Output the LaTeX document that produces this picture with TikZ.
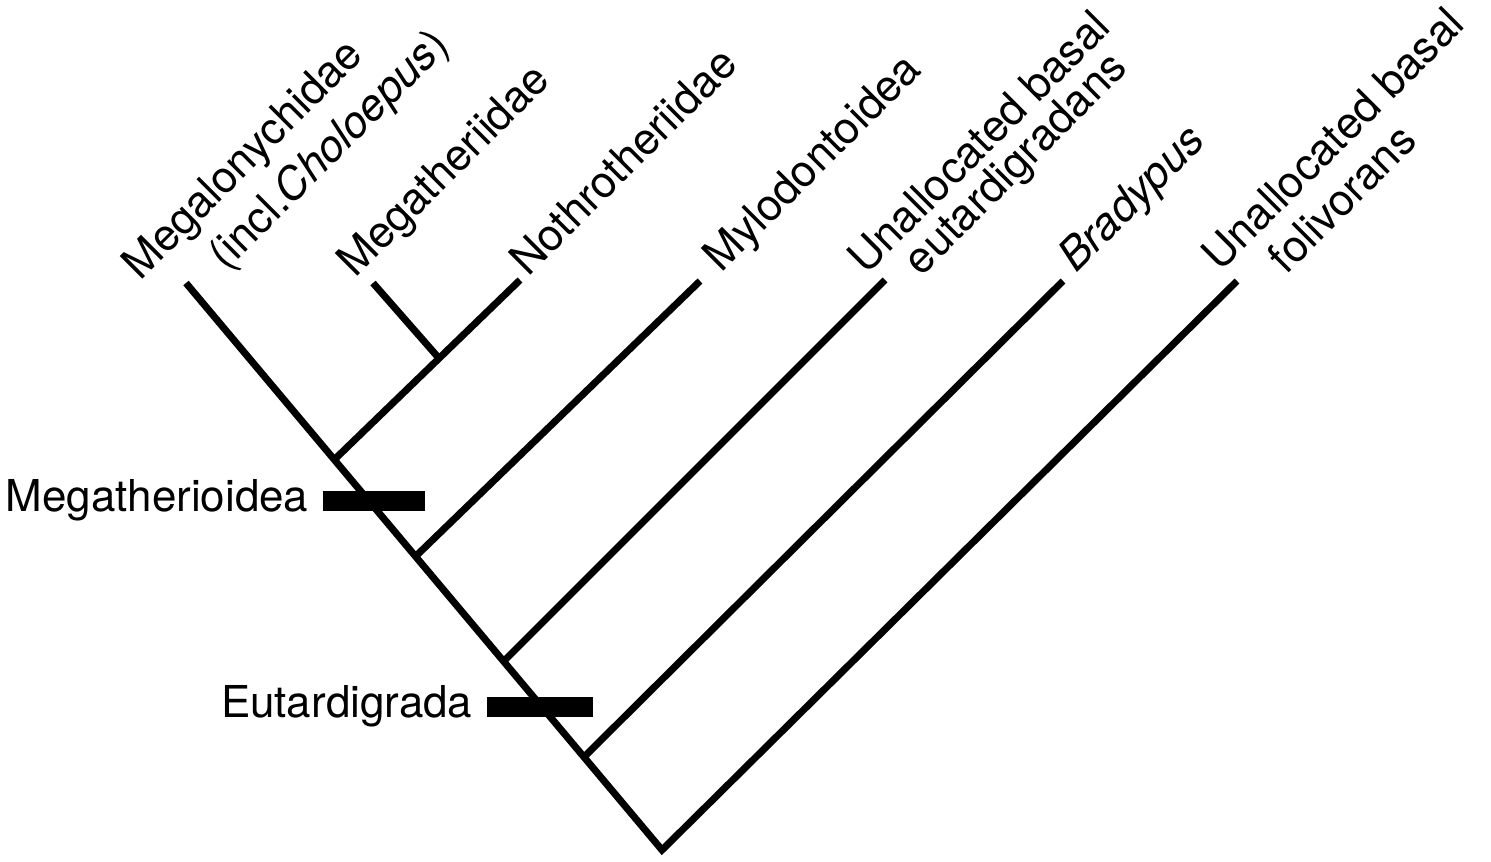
\documentclass[tikz,border=0pt]{standalone}
\usepackage{fontspec}
\setmainfont{TeX Gyre Heros}
\usetikzlibrary{positioning}
\tikzset{
  branch/.style={line width=4pt},
  taxon/.style={rotate=45, anchor=base west, inner sep=0pt, font=\fontsize{25}{30}\selectfont},
  cladebar/.style={fill=black, inner sep=0pt, minimum height=0.4cm},
  cladename/.style={inner sep=0pt, font=\fontsize{25}{30}\selectfont}
}

\begin{document}
\begin{tikzpicture}
    \useasboundingbox (0,0) rectangle (29.82,-17.22);

    % tips and internal nodes
    \coordinate (root) at (13.24, -17.00);
    \coordinate (tMgl) at (3.72,  -5.66);
    \coordinate (tMgt) at (7.46,  -5.66);
    \coordinate (tNot) at (10.40, -5.60);
    \coordinate (tMyl) at (14.00, -5.62);
    \coordinate (tUnE) at (17.70, -5.60);
    \coordinate (tBra) at (21.26, -5.62);
    \coordinate (tUnF) at (24.74, -5.62);
    \coordinate (n1)   at (6.70,  -9.18);
    \coordinate (n12)  at (8.74,  -7.12);
    \coordinate (n2)   at (8.32,  -11.12);
    \coordinate (n3)   at (10.08, -13.22);
    \coordinate (n4)   at (11.68, -15.14);

    \draw[branch] (tMgl) -- (root) -- (tUnF);
    \draw[branch] (n1) -- (tNot);
    \draw[branch] (n12) -- (tMgt);
    \draw[branch] (n2) -- (tMyl);
    \draw[branch] (n3) -- (tUnE);
    \draw[branch] (n4) -- (tBra);

    % taxon labels
    \node[taxon] (lMgl)  at ([shift={(-0.92,0.02)}]tMgl) {Megalonychidae};
    \node[taxon] (lMgl2) at ([shift={(0.80,0.22)}]tMgl) {(incl.\textit{Choloepus})};
    \node[taxon] (lMgt)  at ([shift={(-0.36,0.08)}]tMgt) {Megatheriidae};
    \node[taxon] (lNot)  at ([shift={(0.16,0.04)}]tNot) {Nothrotheriidae};
    \node[taxon] (lMyl)  at ([shift={(0.42,0.14)}]tMyl) {Mylodontoidea};
    \node[taxon] (lUnE)  at ([shift={(-0.38,0.08)}]tUnE) {Unallocated basal};
    \node[taxon] (lUnE2) at ([shift={(0.73,0.05)}]tUnE) {eutardigradans};
    \node[taxon] (lBra)  at ([shift={(0.26,0.14)}]tBra) {\textit{Bradypus}};
    \node[taxon] (lUnF)  at ([shift={(-0.34,0.16)}]tUnF) {Unallocated basal};
    \node[taxon] (lUnF2) at ([shift={(0.99,0.11)}]tUnF) {folivorans};

    % clade bars
    \node[cladebar, minimum width=2.04cm] (bMth) at (7.48, -10.02) {};
    \node[cladebar, minimum width=2.12cm] (bEut) at (10.80, -14.14) {};
    \node[cladename, left=0.28cm of bMth.south west, anchor=base east] (lMth) {Megatherioidea};
    \node[cladename, left=0.28cm of bEut.south west, anchor=base east] (lEut) {Eutardigrada};
\end{tikzpicture}
\end{document}
